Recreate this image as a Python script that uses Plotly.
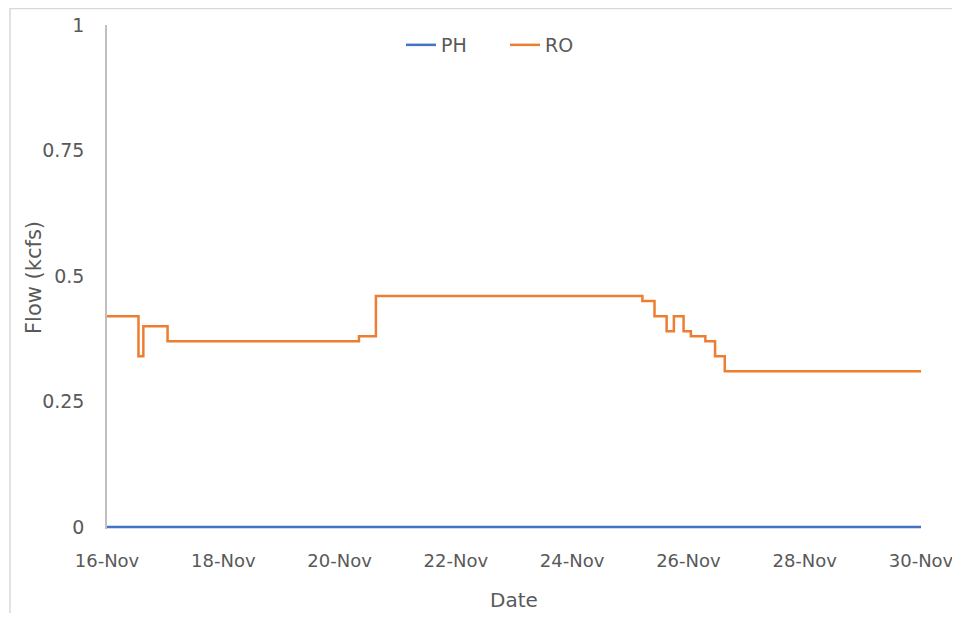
import plotly.graph_objects as go

# Data
ph_times = ["2020-11-16 00:00", "2020-11-30 00:00"]
ph_values = [0, 0]

ro_times = [
    "2020-11-16 00:00", "2020-11-16 13:00", "2020-11-16 15:00", "2020-11-17 01:00",
    "2020-11-20 08:00", "2020-11-20 15:00", "2020-11-25 05:00", "2020-11-25 10:00",
    "2020-11-25 15:00", "2020-11-25 18:00", "2020-11-25 22:00", "2020-11-26 01:00",
    "2020-11-26 07:00", "2020-11-26 11:00", "2020-11-26 15:00", "2020-11-30 00:00",
]
ro_values = [0.42, 0.34, 0.40, 0.37, 0.38, 0.46, 0.45, 0.42,
             0.39, 0.42, 0.39, 0.38, 0.37, 0.34, 0.31, 0.31]

x_tickvals = ["2020-11-16", "2020-11-18", "2020-11-20", "2020-11-22",
              "2020-11-24", "2020-11-26", "2020-11-28", "2020-11-30"]
x_ticktext = ["16-Nov", "18-Nov", "20-Nov", "22-Nov", "24-Nov", "26-Nov", "28-Nov", "30-Nov"]
y_tickvals = [0, 0.25, 0.5, 0.75, 1]
y_ticktext = ["0", "0.25", "0.5", "0.75", "1"]

FONT = "DejaVu Sans"
GRAY = "#595959"

fig = go.Figure()
fig.add_trace(go.Scatter(x=ph_times, y=ph_values, name="PH", mode="lines",
                         line=dict(color="#4472C4", width=2.5)))
fig.add_trace(go.Scatter(x=ro_times, y=ro_values, name="RO", mode="lines",
                         line=dict(color="#ED7D31", width=2.5, shape="hv")))

# page is offset by the 8px body margin; keep figure inside the viewport
OFF = 8
W, H = 960 - 2 * OFF, 621 - 2 * OFF
L, T = 107 - OFF, 25 - OFF
pw, ph = 814, 504
R, B = W - L - pw, H - T - ph

def px_x(page_x):
    return (page_x - OFF - L) / pw

def px_y(page_y):
    return 1 - (page_y - OFF - T) / ph

fig.update_layout(
    width=W, height=H,
    margin=dict(l=L, r=R, t=T, b=B, autoexpand=False),
    paper_bgcolor="white", plot_bgcolor="white",
    font=dict(family=FONT, size=19, color=GRAY),
    showlegend=True,
    legend=dict(orientation="h", x=px_x(401), xanchor="left",
                y=px_y(45), yanchor="middle",
                font=dict(family=FONT, size=19, color=GRAY),
                bgcolor="rgba(0,0,0,0)",
                entrywidth=59, entrywidthmode="pixels"),
    xaxis=dict(type="date", range=["2020-11-16", "2020-11-30"],
               tickvals=x_tickvals, ticktext=x_ticktext,
               tickfont=dict(size=18),
               showgrid=False, zeroline=False, showline=False,
               ticks="", ticklabelstandoff=19, automargin=False,
               ticklabeloverflow="allow"),
    yaxis=dict(range=[-0.004, 1], tickvals=y_tickvals, ticktext=y_ticktext,
               showgrid=False, zeroline=False, showline=True,
               linecolor="#BFBFBF", linewidth=1.5,
               ticks="", ticklabelstandoff=17, automargin=False),
    annotations=[
        dict(text="Date", xref="paper", yref="paper", x=px_x(514), y=px_y(600),
             xanchor="center", yanchor="middle", showarrow=False,
             font=dict(family=FONT, size=20, color=GRAY)),
        dict(text="Flow (kcfs)", xref="paper", yref="paper", x=px_x(34), y=px_y(278),
             xanchor="center", yanchor="middle", showarrow=False, textangle=-90,
             font=dict(family=FONT, size=21, color=GRAY)),
    ],
    shapes=[dict(type="rect", xref="paper", yref="paper",
                 x0=px_x(10), x1=1.2, y0=-0.3, y1=px_y(8.5),
                 line=dict(color="#D9D9D9", width=1.5), fillcolor="rgba(0,0,0,0)",
                 layer="below")],
)

fig.write_html("out.html")
